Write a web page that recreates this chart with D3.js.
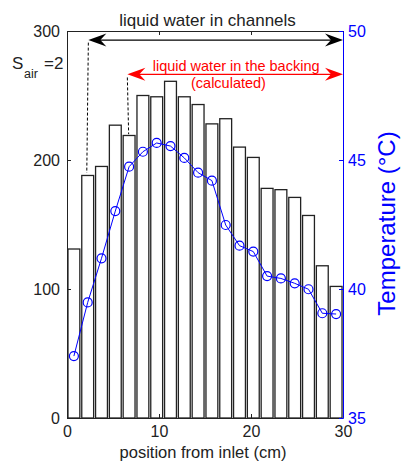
<!DOCTYPE html>
<html>
<head>
<meta charset="utf-8">
<script src="https://cdn.jsdelivr.net/npm/d3@7"></script>
<style>
  html, body { margin: 0; padding: 0; background: #fff; }
  svg { display: block; font-family: "Liberation Sans", Arial, Helvetica, sans-serif; }
</style>
</head>
<body>
<svg id="chart" width="401" height="463"></svg>
<script>
// ---- data ----
const positions = [0.75, 2.25, 3.75, 5.25, 6.75, 8.25, 9.75, 11.25, 12.75, 14.25,
                   15.75, 17.25, 18.75, 20.25, 21.75, 23.25, 24.75, 26.25, 27.75, 29.25];
const barValues = [131, 188, 195, 227, 219, 250, 249, 261, 249, 243,
                   228, 232, 210, 202, 178, 177, 171, 157, 118, 102];
const temperature = [37.4, 39.48, 41.19, 43.02, 44.74, 45.32, 45.66, 45.54, 45.08, 44.51,
                     44.2, 42.48, 41.68, 41.45, 40.5, 40.41, 40.22, 39.99, 39.06, 39.03];
const xTicks = [0, 10, 20, 30];
const yLeftTicks = [0, 100, 200, 300];
const yRightTicks = [35, 40, 45, 50];

// ---- layout ----
const L = 67, R = 343, T = 31, B = 418;
const svg = d3.select("#chart");
const x = d3.scaleLinear().domain([0, 30]).range([L, R]);
const y = d3.scaleLinear().domain([0, 300]).range([B, T]);
const yR = d3.scaleLinear().domain([35, 50]).range([B, T]);
const blue = "#0000ff";

// bars
const bw = 1.5 * 0.86;
svg.append("g").selectAll("rect").data(barValues).join("rect")
  .attr("x", (d, i) => x(positions[i] - bw / 2))
  .attr("width", x(bw) - x(0))
  .attr("y", d => y(d))
  .attr("height", d => y(0) - y(d))
  .attr("fill", "#fff")
  .attr("stroke", "#222")
  .attr("stroke-width", 1.3);

// axes
const fmt = d3.format("d");
const gL = svg.append("g").attr("transform", `translate(${L},0)`)
  .call(d3.axisLeft(y).tickValues(yLeftTicks).tickFormat(fmt).tickSizeInner(-4).tickSizeOuter(0).tickPadding(7));
const gB = svg.append("g").attr("transform", `translate(0,${B})`)
  .call(d3.axisBottom(x).tickValues(xTicks).tickFormat(fmt).tickSizeInner(-4).tickSizeOuter(0).tickPadding(8));
const gT = svg.append("g").attr("transform", `translate(0,${T})`)
  .call(d3.axisTop(x).tickValues(xTicks).tickFormat("").tickSizeInner(-4).tickSizeOuter(0));
const gR = svg.append("g").attr("transform", `translate(${R},0)`)
  .call(d3.axisRight(yR).tickValues(yRightTicks).tickFormat(fmt).tickSizeInner(-4).tickSizeOuter(0).tickPadding(5));

[gL, gB, gT].forEach(g => {
  g.selectAll("path,line").attr("stroke", "#222");
  g.selectAll("text").attr("fill", "#222").style("font-size", "16px");
});
gR.selectAll("path,line").attr("stroke", blue);
gR.selectAll("text").attr("fill", blue).style("font-size", "16px");

// temperature line
const line = d3.line().x((d, i) => x(positions[i])).y(d => yR(d));
svg.append("path").datum(temperature)
  .attr("d", line).attr("fill", "none").attr("stroke", blue).attr("stroke-width", 1);
svg.append("g").selectAll("circle").data(temperature).join("circle")
  .attr("cx", (d, i) => x(positions[i])).attr("cy", d => yR(d)).attr("r", 4.5)
  .attr("fill", "none").attr("stroke", blue).attr("stroke-width", 1.2);

// annotations
function arrowHead(tipX, tipY, dir, color) {
  const len = 18, hw = 6.5, notch = 12;
  const p = [
    [tipX, tipY],
    [tipX - dir * len, tipY - hw],
    [tipX - dir * notch, tipY],
    [tipX - dir * len, tipY + hw]
  ];
  svg.append("path").attr("d", "M" + p.map(q => q.join(",")).join("L") + "Z").attr("fill", color);
}
function dblArrow(x1, x2, yy, color) {
  svg.append("line").attr("x1", x1 + 10).attr("x2", x2 - 10).attr("y1", yy).attr("y2", yy)
    .attr("stroke", color).attr("stroke-width", 1.3);
  arrowHead(x1, yy, -1, color);
  arrowHead(x2, yy, 1, color);
}
// black: liquid water in channels
dblArrow(x(2.32), x(30), y(293), "#000");
svg.append("line").attr("x1", x(2.32)).attr("y1", y(291)).attr("x2", x(2.15)).attr("y2", y(190))
  .attr("stroke", "#000").attr("stroke-dasharray", "3,2").attr("stroke-width", 1);
// red: liquid water in the backing
dblArrow(x(6.56), x(30), y(266.4), "#ff0000");
svg.append("line").attr("x1", x(6.56)).attr("y1", y(264)).attr("x2", x(6.7)).attr("y2", y(220))
  .attr("stroke", "#000").attr("stroke-dasharray", "3,2").attr("stroke-width", 1);

svg.append("text").attr("x", 207.5).attr("y", 26).attr("text-anchor", "middle")
  .style("font-size", "17px").attr("fill", "#222").text("liquid water in channels");
svg.append("text").attr("x", 152.7).attr("y", 71).style("font-size", "14.5px")
  .attr("fill", "#ff0000").text("liquid water in the backing");
svg.append("text").attr("x", 191).attr("y", 88).style("font-size", "14.5px")
  .attr("fill", "#ff0000").text("(calculated)");

// S_air = 2
svg.append("text").attr("x", 12).attr("y", 69).style("font-size", "17px").attr("fill", "#222").text("S");
svg.append("text").attr("x", 24).attr("y", 78).style("font-size", "12.5px").attr("fill", "#222").text("air");
svg.append("text").attr("x", 44).attr("y", 69).style("font-size", "17px").attr("fill", "#222").text("=2");

// axis labels
svg.append("text").attr("x", 203).attr("y", 458).attr("text-anchor", "middle")
  .style("font-size", "16.5px").attr("fill", "#222").text("position from inlet (cm)");
svg.append("text").attr("transform", "translate(395,223.5) rotate(-90)").attr("text-anchor", "middle")
  .style("font-size", "24px").attr("fill", blue).text("Temperature (°C)");
</script>
</body>
</html>
